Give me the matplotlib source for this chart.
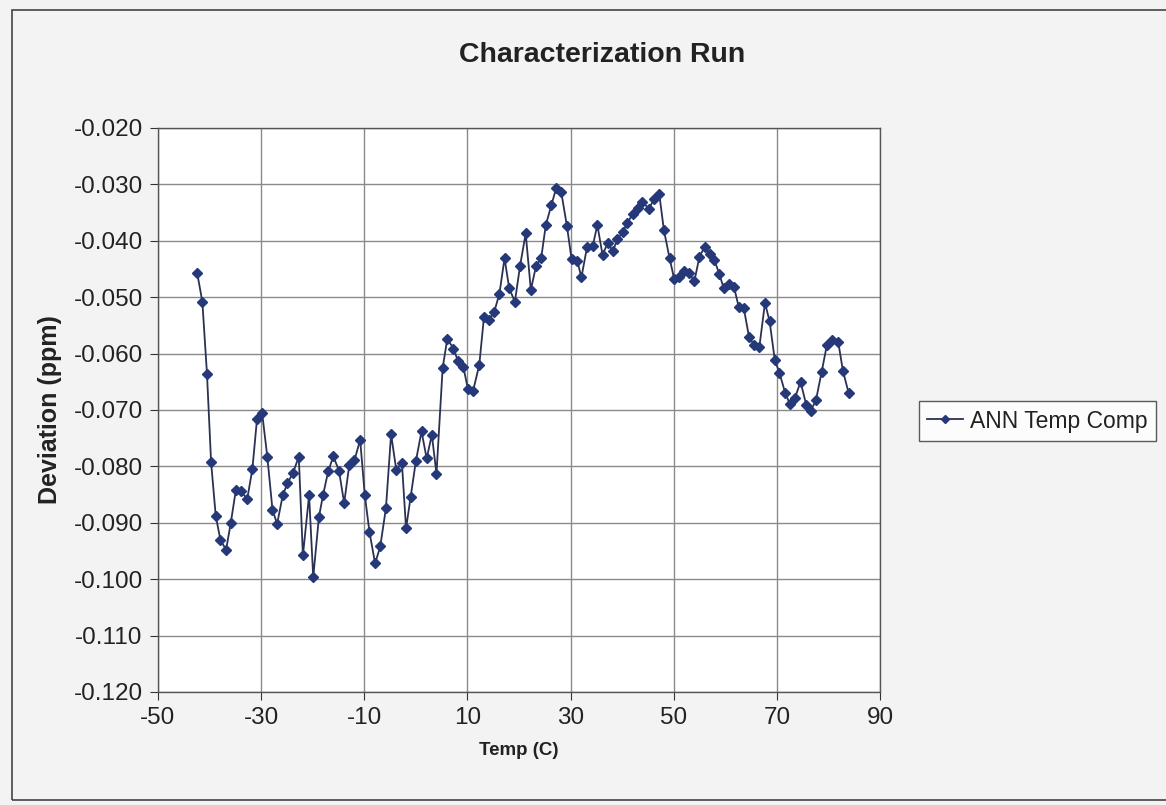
import matplotlib
matplotlib.use("Agg")
import matplotlib.pyplot as plt
from matplotlib.patches import Rectangle

plt.rcParams['font.family'] = ['Liberation Sans', 'DejaVu Sans']

temp = [-42.4, -41.4, -40.5, -39.7, -38.8, -37.9, -36.8, -35.9, -34.9, -33.9,
        -32.7, -31.7, -30.8, -29.8, -28.8, -27.8, -26.9, -25.8, -24.9, -23.8,
        -22.7, -21.9, -20.7, -19.9, -18.8, -18.0, -17.0, -16.0, -14.9, -13.9,
        -12.9, -11.9, -10.8, -9.9, -9.0, -7.9, -6.9, -5.8, -4.8, -3.8,
        -2.7, -1.9, -1.0, 0.0, 1.1, 2.1, 3.1, 4.0, 5.2, 6.1,
        7.3, 8.2, 9.2, 10.1, 11.1, 12.3, 13.2, 14.2, 15.2, 16.2,
        17.2, 18.1, 19.2, 20.2, 21.3, 22.3, 23.3, 24.3, 25.2, 26.3,
        27.2, 28.2, 29.3, 30.2, 31.3, 32.1, 33.2, 34.3, 35.2, 36.2,
        37.2, 38.2, 39.1, 40.1, 41.0, 42.1, 43.0, 43.9, 45.2, 46.2,
        47.2, 48.1, 49.2, 50.1, 51.0, 52.0, 53.0, 54.0, 55.0, 56.0,
        57.0, 57.9, 58.8, 59.7, 60.7, 61.7, 62.6, 63.6, 64.6, 65.6,
        66.6, 67.7, 68.6, 69.6, 70.5, 71.6, 72.5, 73.5, 74.6, 75.7,
        76.6, 77.6, 78.7, 79.7, 80.6, 81.9, 82.8, 83.9]

deviation = [-0.0457, -0.0508, -0.0636, -0.0793, -0.0888, -0.0930, -0.0948, -0.0901, -0.0842, -0.0844,
             -0.0858, -0.0805, -0.0716, -0.0706, -0.0783, -0.0877, -0.0902, -0.0851, -0.0830, -0.0811,
             -0.0783, -0.0958, -0.0851, -0.0997, -0.0890, -0.0851, -0.0809, -0.0782, -0.0808, -0.0865,
             -0.0797, -0.0789, -0.0753, -0.0851, -0.0916, -0.0972, -0.0942, -0.0874, -0.0743, -0.0806,
             -0.0794, -0.0910, -0.0854, -0.0791, -0.0738, -0.0786, -0.0744, -0.0813, -0.0625, -0.0574,
             -0.0591, -0.0614, -0.0623, -0.0663, -0.0666, -0.0620, -0.0536, -0.0540, -0.0526, -0.0494,
             -0.0431, -0.0484, -0.0508, -0.0445, -0.0387, -0.0487, -0.0445, -0.0431, -0.0372, -0.0336,
             -0.0307, -0.0314, -0.0374, -0.0433, -0.0435, -0.0465, -0.0411, -0.0409, -0.0372, -0.0425,
             -0.0404, -0.0418, -0.0397, -0.0385, -0.0368, -0.0352, -0.0341, -0.0331, -0.0343, -0.0326,
             -0.0317, -0.0381, -0.0431, -0.0468, -0.0464, -0.0453, -0.0457, -0.0472, -0.0428, -0.0411,
             -0.0423, -0.0434, -0.0458, -0.0484, -0.0476, -0.0482, -0.0517, -0.0520, -0.0570, -0.0585,
             -0.0589, -0.0510, -0.0543, -0.0611, -0.0634, -0.0669, -0.0689, -0.0679, -0.0650, -0.0691,
             -0.0701, -0.0682, -0.0632, -0.0585, -0.0576, -0.0579, -0.0630, -0.0669]

x_ticks = [-50, -30, -10, 10, 30, 50, 70, 90]
y_ticks = [-0.120, -0.110, -0.100, -0.090, -0.080, -0.070, -0.060, -0.050, -0.040, -0.030, -0.020]

fig = plt.figure(figsize=(11.66, 8.05), dpi=100)
fig.patch.set_facecolor('#f3f3f3')

# outer chart frame
fig.patches.append(Rectangle((0.010, 0.006), 1.2, 0.982, transform=fig.transFigure,
                             fill=False, edgecolor='#444444', linewidth=1.2))

ax = fig.add_axes([0.1355, 0.1404, 0.6192, 0.7006])
ax.set_facecolor('white')

ax.plot(temp, deviation, color='#2a3152', linewidth=1.3, marker='D', markersize=5.5,
        markerfacecolor='#24387a', markeredgecolor='#24387a', label='ANN Temp Comp')

ax.set_xlim(-50, 90)
ax.set_ylim(-0.120, -0.020)
ax.set_xticks(x_ticks)
ax.set_yticks(y_ticks)
ax.set_xticklabels([str(v) for v in x_ticks])
ax.set_yticklabels([f"{v:.3f}" for v in y_ticks])
ax.tick_params(axis='both', labelsize=17.5, direction='out', length=6, color='#333333',
               labelcolor='#222222', pad=5)
ax.grid(True, color='#8a8a8a', linewidth=1.0)
ax.set_axisbelow(True)
for s in ax.spines.values():
    s.set_color('#555555')
    s.set_linewidth(1.0)

ax.set_xlabel('Temp (C)', fontsize=13.5, fontweight='bold', labelpad=9, color='#222222')
ax.set_ylabel('Deviation (ppm)', fontsize=18, fontweight='bold', labelpad=8, color='#222222')

fig.text(0.516, 0.932, 'Characterization Run', ha='center', va='center',
         fontsize=20.5, fontweight='bold', color='#222222')

leg = ax.legend(loc='center left', bbox_to_anchor=(0.788, 0.477), bbox_transform=fig.transFigure,
                borderaxespad=0, fontsize=16.5, frameon=True, fancybox=False, edgecolor='#333333',
                borderpad=0.35, handlelength=1.6, handletextpad=0.3, markerscale=0.8)
leg.get_frame().set_linewidth(1.0)
for t in leg.get_texts():
    t.set_color('#222222')

fig.savefig('out.png', dpi=100, facecolor=fig.get_facecolor())
